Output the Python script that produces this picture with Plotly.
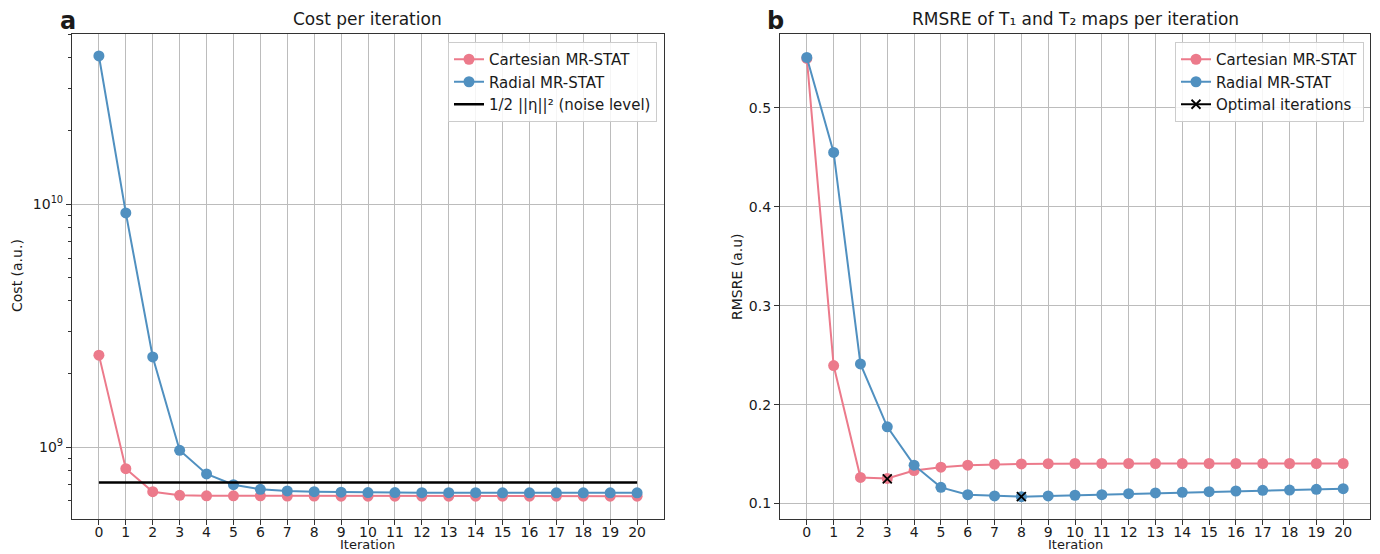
import plotly.graph_objects as go

iterations = list(range(21))

cost_cartesian = [2.39e9, 8.15e8, 6.55e8, 6.33e8, 6.30e8, 6.30e8, 6.30e8, 6.29e8, 6.29e8, 6.28e8,
                  6.28e8, 6.28e8, 6.28e8, 6.28e8, 6.28e8, 6.28e8, 6.28e8, 6.28e8, 6.28e8, 6.28e8, 6.28e8]
cost_radial = [4.07e10, 9.2e9, 2.35e9, 9.7e8, 7.75e8, 7.0e8, 6.7e8, 6.6e8, 6.55e8, 6.52e8,
               6.50e8, 6.50e8, 6.49e8, 6.49e8, 6.49e8, 6.48e8, 6.48e8, 6.48e8, 6.48e8, 6.48e8, 6.48e8]
noise_level = 7.15e8
noise_x = [0, 20]

rmsre_cartesian = [0.550, 0.2395, 0.1264, 0.1254, 0.1334, 0.1368, 0.1388, 0.1398, 0.1401, 0.1403,
                   0.1405, 0.1405, 0.1405, 0.1405, 0.1405, 0.1405, 0.1405, 0.1405, 0.1405, 0.1405, 0.1405]
rmsre_radial = [0.551, 0.455, 0.2412, 0.1776, 0.1388, 0.1164, 0.1090, 0.1077, 0.1070, 0.1077,
                0.1084, 0.1090, 0.1100, 0.1107, 0.1114, 0.1120, 0.1127, 0.1134, 0.1137, 0.1144, 0.1150]
optimal_iter = [3, None, 8]
optimal_rmsre = [0.125, None, 0.107]

cost_major = [1e9, 1e10]
cost_major_text = ["10<sup>9</sup>", "10<sup>10</sup>"]
cost_minor = [5e8, 6e8, 7e8, 8e8, 9e8, 2e9, 3e9, 4e9, 5e9, 6e9, 7e9, 8e9, 9e9, 2e10, 3e10, 4e10, 5e10]
rmsre_ticks = [0.1, 0.2, 0.3, 0.4, 0.5]

PINK = "#EC7A8B"
BLUE = "#5090C0"
FONT = "DejaVu Sans"
OFF = 8  # page body margin
W, H = 1380 - OFF, 554 - OFF


def px_x(p):
    return (p - OFF) / W


def px_y(p):
    return 1 - (p - OFF) / H


fig = go.Figure()

# Left panel
fig.add_trace(go.Scatter(x=iterations, y=cost_cartesian, mode="lines+markers", name="Cartesian MR-STAT",
                         line=dict(color=PINK, width=2), marker=dict(color=PINK, size=11),
                         xaxis="x", yaxis="y", legend="legend"))
fig.add_trace(go.Scatter(x=iterations, y=cost_radial, mode="lines+markers", name="Radial MR-STAT",
                         line=dict(color=BLUE, width=2), marker=dict(color=BLUE, size=11),
                         xaxis="x", yaxis="y", legend="legend"))
fig.add_trace(go.Scatter(x=noise_x, y=[noise_level] * len(noise_x), mode="lines",
                         name="1/2 ||η||² (noise level)",
                         line=dict(color="black", width=2.5),
                         xaxis="x", yaxis="y", legend="legend"))

# Right panel
fig.add_trace(go.Scatter(x=iterations, y=rmsre_cartesian, mode="lines+markers", name="Cartesian MR-STAT",
                         line=dict(color=PINK, width=2), marker=dict(color=PINK, size=11),
                         xaxis="x2", yaxis="y2", legend="legend2"))
fig.add_trace(go.Scatter(x=iterations, y=rmsre_radial, mode="lines+markers", name="Radial MR-STAT",
                         line=dict(color=BLUE, width=2), marker=dict(color=BLUE, size=11),
                         xaxis="x2", yaxis="y2", legend="legend2"))
fig.add_trace(go.Scatter(x=optimal_iter, y=optimal_rmsre, mode="lines+markers", name="Optimal iterations",
                         connectgaps=False,
                         line=dict(color="black", width=2),
                         marker=dict(color="black", size=9, symbol="x-thin", line=dict(color="black", width=1.8)),
                         xaxis="x2", yaxis="y2", legend="legend2"))

axis_common = dict(showline=True, linecolor="#333333", linewidth=1.2, mirror=True,
                   ticks="outside", ticklen=5, tickwidth=1.2, tickcolor="#333333",
                   showgrid=True, gridcolor="#bcbcbc", gridwidth=1.4, zeroline=False,
                   tickfont=dict(family=FONT, size=14, color="#1a1a1a"))

y_dom = [px_y(519), px_y(34)]

fig.update_layout(
    width=W, height=H,
    margin=dict(l=0, r=0, t=0, b=0),
    plot_bgcolor="white", paper_bgcolor="white",
    font=dict(family=FONT, color="#1a1a1a"),
    xaxis=dict(domain=[px_x(72), px_x(664)], range=[-1, 21], tickmode="array", tickvals=iterations,
               anchor="y", ticklabelstandoff=-5, **axis_common),
    yaxis=dict(domain=y_dom, type="log", range=[8.704, 10.70], tickmode="array",
               tickvals=cost_major, ticktext=cost_major_text, anchor="x",
               minor=dict(tickmode="array", tickvals=cost_minor, ticks="outside", ticklen=3,
                          tickwidth=1, tickcolor="#333333", showgrid=False),
               **axis_common),
    xaxis2=dict(domain=[px_x(780), px_x(1370)], range=[-1, 21], tickmode="array", tickvals=iterations,
                anchor="y2", ticklabelstandoff=-5, **axis_common),
    yaxis2=dict(domain=y_dom, range=[0.0844, 0.5747], tickmode="array", tickvals=rmsre_ticks,
                ticktext=[f"{v:.1f}" for v in rmsre_ticks], anchor="x2", **axis_common),
    legend=dict(x=px_x(657), y=px_y(42), xanchor="right", yanchor="top",
                bgcolor="rgba(255,255,255,0.85)", bordercolor="#cccccc", borderwidth=1,
                font=dict(family=FONT, size=15, color="#1a1a1a")),
    legend2=dict(x=px_x(1364), y=px_y(42), xanchor="right", yanchor="top",
                 bgcolor="rgba(255,255,255,0.85)", bordercolor="#cccccc", borderwidth=1,
                 font=dict(family=FONT, size=15, color="#1a1a1a")),
    showlegend=True,
)

annotations = [
    dict(text="Cost per iteration", x=px_x(368), y=px_y(19), font=dict(size=17)),
    dict(text="RMSRE of T₁ and T₂ maps per iteration", x=px_x(1075), y=px_y(19), font=dict(size=17)),
    dict(text="<b>a</b>", x=px_x(68), y=px_y(21), font=dict(size=24)),
    dict(text="<b>b</b>", x=px_x(775), y=px_y(21), font=dict(size=24)),
    dict(text="Iteration", x=px_x(368), y=px_y(554), font=dict(size=13), yanchor="bottom"),
    dict(text="Iteration", x=px_x(1075), y=px_y(554), font=dict(size=13), yanchor="bottom"),
    dict(text="Cost (a.u.)", x=px_x(17), y=px_y(276), font=dict(size=14), textangle=-90),
    dict(text="RMSRE (a.u)", x=px_x(737), y=px_y(276), font=dict(size=14), textangle=-90),
]
for a in annotations:
    a.setdefault("yanchor", "middle")
    a.update(xref="paper", yref="paper", showarrow=False, xanchor="center")
    a["font"] = dict(family=FONT, color="#1a1a1a", **a["font"])
fig.update_layout(annotations=annotations)

fig.write_html("out.html")
